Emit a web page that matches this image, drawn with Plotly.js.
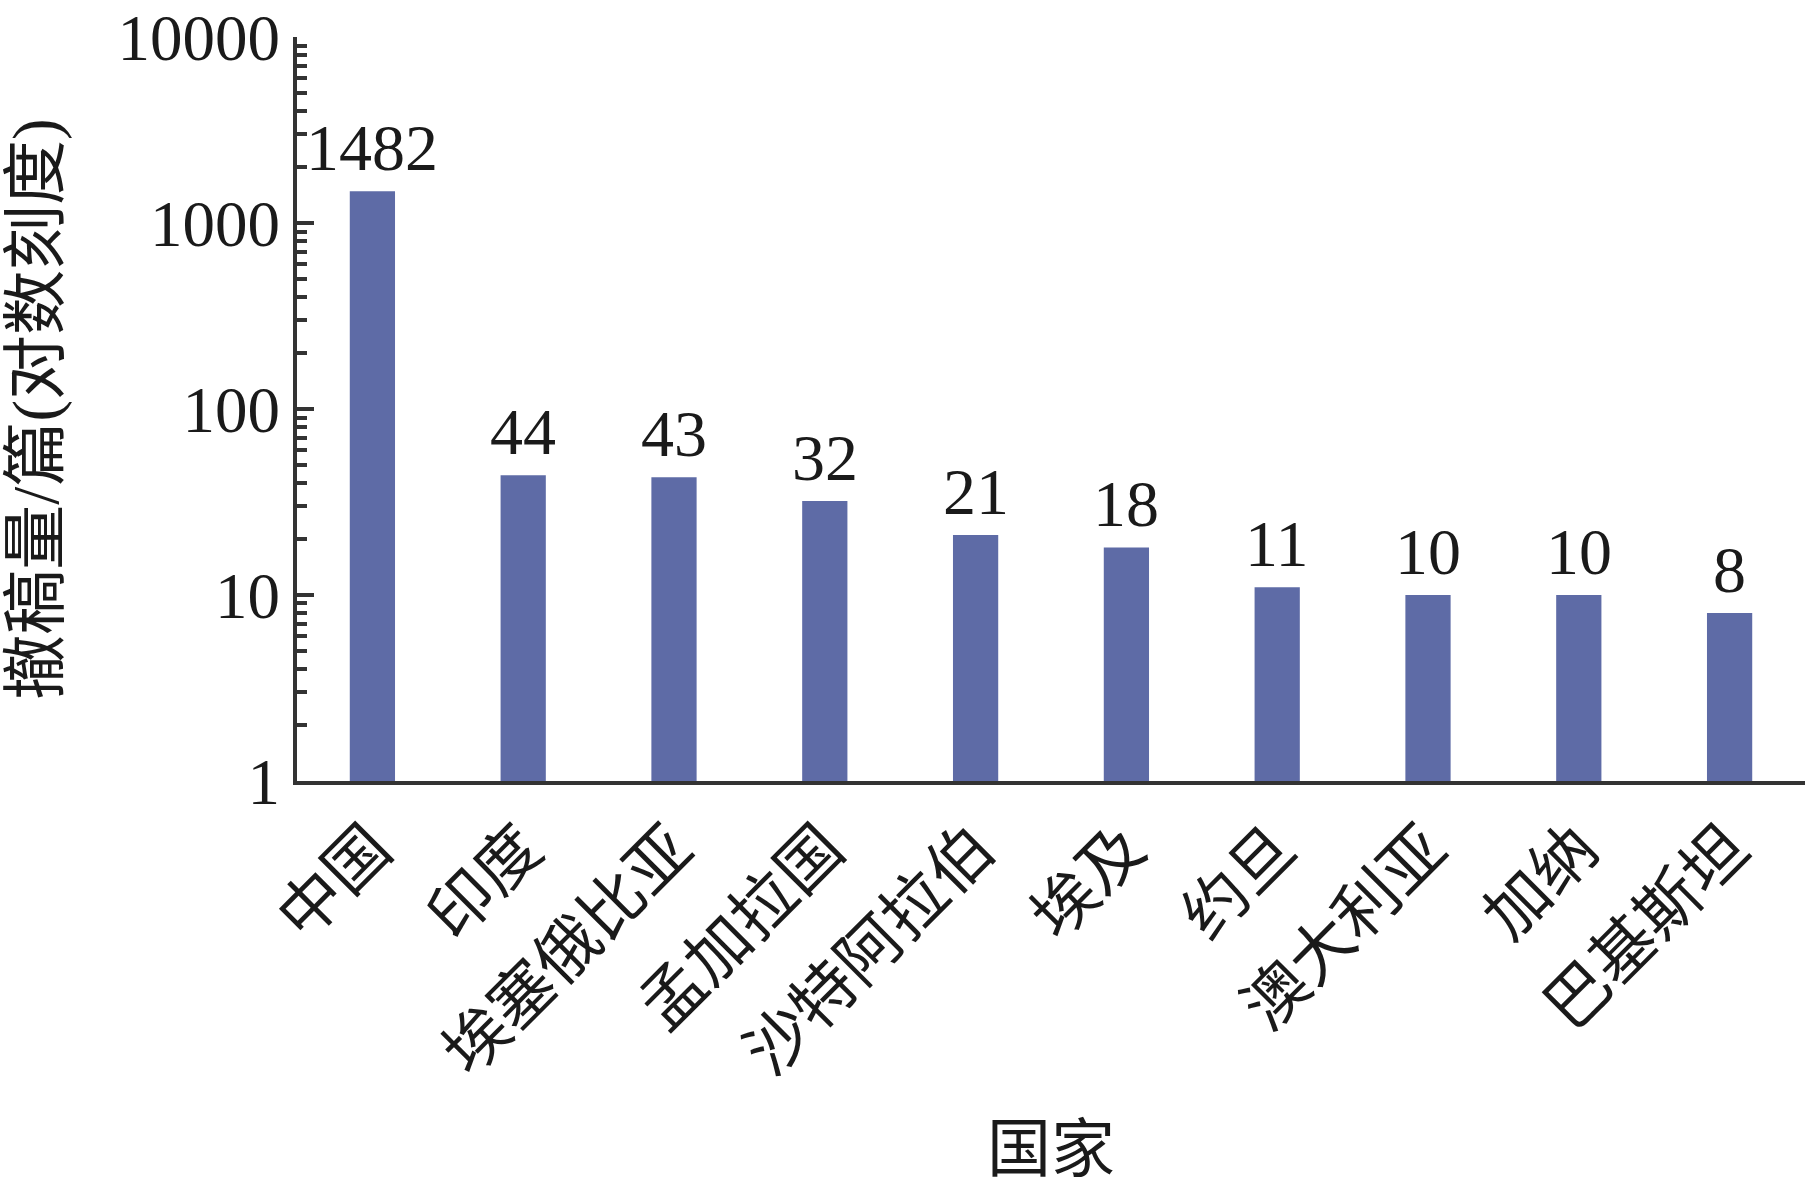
<!DOCTYPE html>
<html>
<head>
<meta charset="utf-8">
<script src="https://cdn.plot.ly/plotly-3.0.1.min.js"></script>
<style>html,body{margin:0;padding:0;background:#fff;}#chart{width:1806px;height:1189px;}</style>
</head>
<body>
<div id="chart"></div>
<script>
const countries = ["中国", "印度", "埃塞俄比亚", "孟加拉国", "沙特阿拉伯", "埃及", "约旦", "澳大利亚", "加纳", "巴基斯坦"];
const retractions = [1482, 44, 43, 32, 21, 18, 11, 10, 10, 8];
const yTickVals = [1, 10, 100, 1000, 10000];
const yTickText = ["1", "10", "100", "1000", "10000"];
const xTitle = "国家";
const yTitle = "撤稿量/篇(对数刻度)";

const serif = "Liberation Serif, Times New Roman, serif";
const cjk = "Noto Sans CJK SC, sans-serif";
const ink = "#1a1a1a";
const axisColor = "#333333";

const trace = {
  type: "bar",
  x: countries,
  y: retractions,
  marker: { color: "#5e6ba6", line: { width: 0 } },
  hoverinfo: "x+y"
};

const annotations = countries.map((c, i) => ({
  x: c,
  y: Math.log10(retractions[i]),
  xref: "x",
  yref: "y",
  text: String(retractions[i]),
  showarrow: false,
  yanchor: "bottom",
  xanchor: "center",
  yshift: 5,
  font: { family: serif, size: 66, color: ink }
}));

const layout = {
  width: 1806,
  height: 1189,
  paper_bgcolor: "#ffffff",
  plot_bgcolor: "#ffffff",
  margin: { l: 297, r: 1, t: 37, b: 408 },
  bargap: 0.7,
  showlegend: false,
  xaxis: {
    type: "category",
    range: [-0.5, 9.5],
    showline: true,
    linecolor: axisColor,
    linewidth: 4,
    ticks: "",
    showgrid: false,
    zeroline: false,
    tickangle: -45,
    tickfont: { family: cjk, size: 64, color: ink },
    automargin: false,
    title: { text: xTitle, font: { family: cjk, size: 64, color: ink }, standoff: 40 }
  },
  yaxis: {
    type: "log",
    range: [-0.0005, 4.0005],
    showline: true,
    linecolor: axisColor,
    linewidth: 4,
    showgrid: false,
    zeroline: false,
    tickmode: "array",
    tickvals: yTickVals,
    ticktext: yTickText,
    ticks: "inside",
    ticklen: 17,
    tickwidth: 4,
    tickcolor: axisColor,
    minor: { ticks: "inside", ticklen: 10, tickwidth: 4, tickcolor: axisColor, dtick: "D1", showgrid: false },
    ticklabelstandoff: 0,
    ticklabeloverflow: "allow",
    tickfont: { family: serif, size: 65, color: ink },
    automargin: false,
    title: { text: yTitle, font: { family: serif + ", Noto Sans CJK SC", size: 65, color: ink }, standoff: 62 }
  },
  annotations: annotations
};

Plotly.newPlot("chart", [trace], layout, { displayModeBar: false, staticPlot: true });
</script>
</body>
</html>
